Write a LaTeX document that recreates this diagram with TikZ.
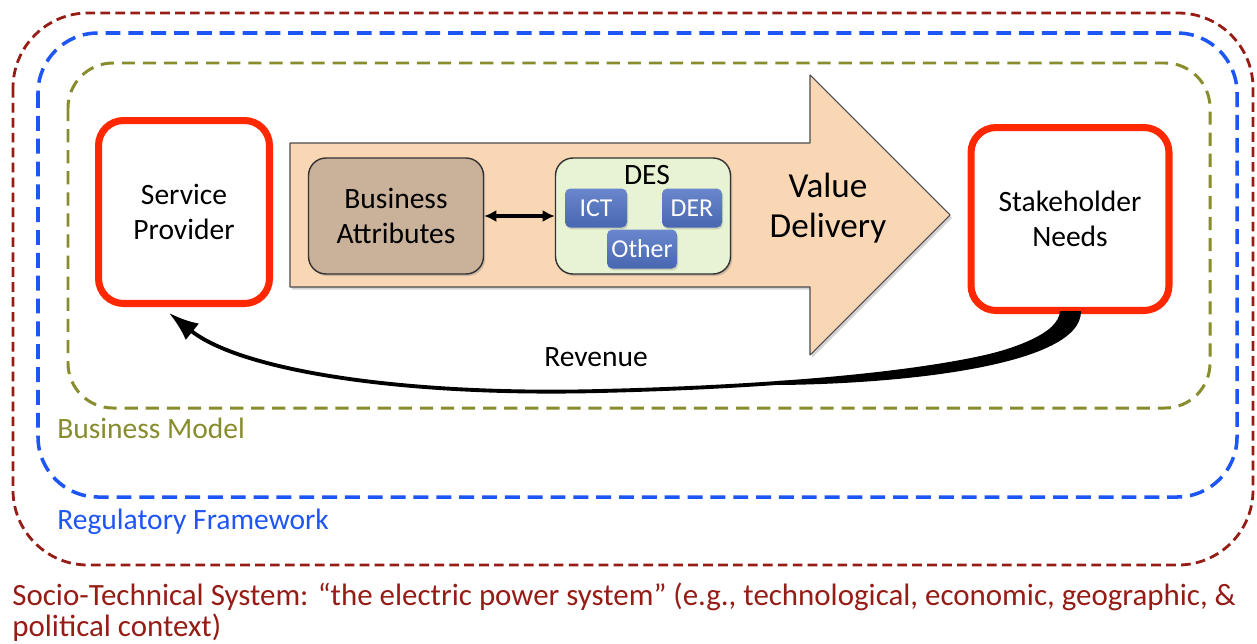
\documentclass[tikz,border=0pt]{standalone}
\usepackage{fontspec}
\setmainfont{Carlito}
\usetikzlibrary{arrows.meta,calc,shadows}
\definecolor{stsred}{RGB}{150,28,22}
\definecolor{regblue}{RGB}{30,85,245}
\definecolor{bmolive}{RGB}{135,140,45}
\definecolor{boxred}{RGB}{255,40,0}
\definecolor{arrowfill}{RGB}{249,214,180}
\definecolor{attrbrown}{RGB}{201,177,154}
\definecolor{desgreen}{RGB}{231,243,210}
\definecolor{techblue}{RGB}{80,114,196}
\begin{document}
\begin{tikzpicture}[x=0.02cm, y=-0.02cm, line join=round, font=\fontsize{16.8}{19.8}\selectfont]
	\tikzset{frame/.style={rounded corners=#1, line width=1.6pt},
		party/.style={draw=boxred, line width=4pt, rounded corners=0.5cm, fill=white, align=center, minimum width=3.42cm, minimum height=3.66cm},
		attr/.style={draw=black!80, line width=0.8pt, rounded corners=0.35cm, align=center, minimum width=3.5cm, minimum height=2.32cm, drop shadow={opacity=0.35, shadow xshift=1pt, shadow yshift=-1.2pt}},
		tech/.style={top color=techblue!85!white, bottom color=techblue!90!black, text=white, rounded corners=3pt, minimum height=0.78cm, inner sep=2pt, font=\fontsize{14.7}{16}\selectfont, drop shadow={opacity=0.3, shadow xshift=0.6pt, shadow yshift=-1pt}},
		revenue/.style={line width=2.2pt, -{Latex[length=17pt, width=12pt]}}}
	\useasboundingbox (0,0) rectangle (1257,643);
	\draw[frame=1.5cm, stsred, dash pattern=on 5.5pt off 3pt] (13,13) rectangle (1253,565);
	\draw[frame=1.2cm, regblue, line width=2pt, dash pattern=on 8.5pt off 4.5pt] (38,33) rectangle (1237,497);
	\draw[frame=0.9cm, bmolive, line width=1.7pt, dash pattern=on 7.5pt off 4.5pt] (68,63) rectangle (1210,408);
	\draw[fill=arrowfill, draw=black!70, line width=0.6pt, drop shadow={opacity=0.35, shadow xshift=1.2pt, shadow yshift=-1.5pt}] (290,143) -- (810,143) -- (810,75) -- (950,215) -- (810,355) -- (810,287) -- (290,287) -- cycle;
	\node[party] (sp) at (184,212) {Service\\Provider};
	\node[party, minimum width=3.96cm] (sn) at (1070,219) {Stakeholder\\Needs};
	\node[attr, fill=attrbrown] (ba) at (396,216) {Business\\Attributes};
	\node[attr, fill=desgreen] (des) at (643,216) {};
	\node (deslbl) at (647,175) {DES};
	\node[tech, minimum width=1.24cm] (ict) at (596,208) {ICT};
	\node[tech, minimum width=1.2cm] (der) at (692,208) {DER};
	\node[tech, minimum width=1.4cm] (oth) at (642,249) {Other};
	\draw[{Latex[length=7pt, width=7pt]}-{Latex[length=7pt, width=7pt]}, line width=1.8pt] (ba) -- (des);
	\node[font=\fontsize{20}{23}\selectfont, align=center] (vd) at (828,208) {Value\\Delivery};
	\fill ($(sn.south)+(-10,-3)$) .. controls (1058,356) and (880,378) .. (778,381) -- (778,385) .. controls (900,384) and (1082,366) .. ($(sn.south)+(11,-3)$) -- cycle;
	\draw[revenue] (sn.south) .. controls (1065,360) and (850,385) .. (600,391) .. controls (400,396) and (240,370) .. ($(sp.south)+(-15,6)$);
	\node (rev) at (596,357) {Revenue};
	\node[anchor=west, inner sep=0, text=bmolive] (bml) at (57,428) {Business Model};
	\node[anchor=west, inner sep=0, text=regblue] (rfl) at (57,522) {Regulatory Framework};
	\node[anchor=north west, inner sep=0, align=left, text=stsred, font=\fontsize{17.6}{17.6}\selectfont] (stl) at (12,583) {Socio-Technical System: “the electric power system” (e.g., technological, economic, geographic, \&\\political context)};
\end{tikzpicture}
\end{document}
